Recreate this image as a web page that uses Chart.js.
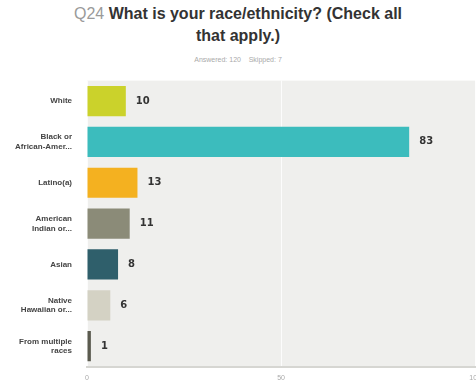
<!DOCTYPE html>
<html lang="en">
  <head>
    <meta charset="UTF-8" />
    <title>Q24</title>
    <script src="https://cdn.jsdelivr.net/npm/chart.js"></script>
    <style>
      body { margin: 0; background: #fff; width: 476px; height: 386px; overflow: hidden; position: relative; font-family: "Liberation Sans", Arial, sans-serif; }
      h1 { position: absolute; top: 3px; left: 0; width: 476px; margin: 0; text-align: center; font-size: 16px; line-height: 22px; color: #333; font-weight: bold; }
      h1 span { color: #9a9a9a; font-weight: normal; }
      .sub { position: absolute; top: 56px; left: 0; width: 476px; text-align: center; font-size: 7px; color: #aaa; }
      #wrap { position: absolute; left: 0; top: 64px; width: 488px; height: 325px; }
    </style>
  </head>
  <body>
    <h1><span>Q24</span> What is your race/ethnicity? (Check all<br>that apply.)</h1>
    <div class="sub">Answered: 120 &nbsp;&nbsp; Skipped: 7</div>
    <div id="wrap"><canvas id="myChart"></canvas></div>
  <script>
// data
const categories = [
  ['White'],
  ['Black or', 'African-Amer...'],
  ['Latino(a)'],
  ['American', 'Indian or...'],
  ['Asian'],
  ['Native', 'Hawaiian or...'],
  ['From multiple', 'races']
];
const counts = [10, 83, 13, 11, 8, 6, 1];
const xTicks = [0, 50, 100];
const barColors = ['#cbd22b', '#3cbcbd', '#f4b120', '#8b8b78', '#2f5f6b', '#d4d2c4', '#5b5b4f'];

// grey plot background
const plotBg = {
  id: 'plotBg',
  beforeDraw(chart) {
    const a = chart.chartArea, c = chart.ctx;
    c.save();
    c.fillStyle = '#efefed';
    c.fillRect(a.left, a.top, a.right - a.left, a.bottom - a.top);
    c.restore();
  }
};

// counts written after each bar
const valueLabels = {
  id: 'valueLabels',
  afterDatasetsDraw(chart) {
    const c = chart.ctx;
    const meta = chart.getDatasetMeta(0);
    c.save();
    c.font = 'bold 10px "DejaVu Sans", sans-serif';
    c.fillStyle = '#333';
    c.textBaseline = 'middle';
    meta.data.forEach((bar, i) => {
      c.fillText(counts[i], bar.x + 10, bar.y);
    });
    c.restore();
  }
};

new Chart(document.getElementById('myChart'), {
  type: 'bar',
  data: {
    labels: categories,
    datasets: [{
      data: counts,
      backgroundColor: barColors,
      barPercentage: 0.74,
      categoryPercentage: 1
    }]
  },
  options: {
    indexAxis: 'y',
    responsive: true,
    maintainAspectRatio: false,
    animation: false,
    layout: { padding: 0 },
    plugins: { legend: { display: false }, tooltip: { enabled: false } },
    scales: {
      x: {
        min: 0,
        max: 100,
        afterBuildTicks(scale) { scale.ticks = xTicks.map(v => ({ value: v })); },
        grid: { color: 'rgba(255,255,255,0.8)', drawTicks: false, lineWidth: 1 },
        border: { display: true, color: '#d6d6d2', width: 2 },
        ticks: { color: '#aaa', font: { size: 7, family: '"Liberation Sans", Arial' }, padding: 7, maxRotation: 0 }
      },
      y: {
        afterFit(scale) { scale.width = 87; },
        grid: { display: false },
        border: { display: false },
        ticks: { color: '#444', font: { size: 8, weight: 'bold', family: '"Liberation Sans", Arial' }, padding: 7, autoSkip: false }
      }
    }
  },
  plugins: [plotBg, valueLabels]
});
  </script>
  </body>
</html>
